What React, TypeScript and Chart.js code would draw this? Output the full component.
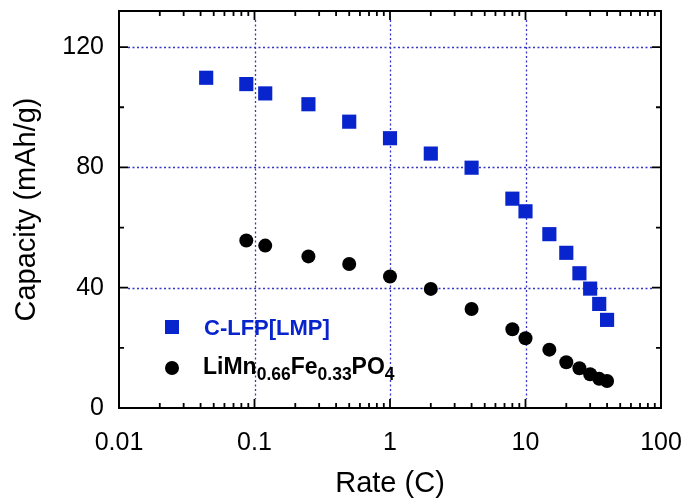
import React, { useEffect, useRef } from 'react';
import { Chart, registerables } from 'chart.js';

Chart.register(...registerables);

// ---- data ----
const lfpRates = [0.044, 0.087, 0.12, 0.25, 0.5, 1, 2, 4, 8, 10, 15, 20, 25, 30, 35, 40];
const lfpCapacity = [109.8, 107.7, 104.6, 101, 95.2, 89.7, 84.6, 79.9, 69.6, 65.4, 57.8, 51.6, 44.8, 39.7, 34.6, 29.3];
const lmfpRates = [0.087, 0.12, 0.25, 0.5, 1, 2, 4, 8, 10, 15, 20, 25, 30, 35, 40];
const lmfpCapacity = [55.7, 54, 50.4, 47.9, 43.7, 39.6, 32.9, 26.2, 23.2, 19.4, 15.2, 13.2, 11.2, 9.7, 9.0];

const xTickValues = [0.01, 0.1, 1, 10, 100];
const xTickLabels = ['0.01', '0.1', '1', '10', '100'];
const yTickValues = [0, 40, 80, 120];
const yMinorTicks = [20, 60, 100];
const xGridValues = [0.1, 1, 10];
const yGridValues = [40, 80, 120];

const BLUE = '#0824cc';
const GRID = '#3535c8';
const FONT = '"Liberation Sans", Arial, sans-serif';

const framePlugin = {
  id: 'frameAndTicks',
  beforeDatasetsDraw(chart: any) {
    const { ctx, chartArea: a, scales } = chart;
    const x = scales.x, y = scales.y;
    ctx.save();
    ctx.strokeStyle = GRID;
    ctx.lineWidth = 1.3;
    ctx.setLineDash([2, 2.5]);
    for (const v of xGridValues) {
      const px = Math.round(x.getPixelForValue(v)) + 0.5;
      ctx.beginPath();
      ctx.moveTo(px, a.top + 9);
      ctx.lineTo(px, a.bottom - 9);
      ctx.stroke();
    }
    for (const v of yGridValues) {
      const py = Math.round(y.getPixelForValue(v)) + 0.5;
      ctx.beginPath();
      ctx.moveTo(a.left + 9, py);
      ctx.lineTo(a.right - 9, py);
      ctx.stroke();
    }
    ctx.restore();
  },
  afterDatasetsDraw(chart: any) {
    const { ctx, chartArea: a, scales } = chart;
    const x = scales.x, y = scales.y;
    ctx.save();
    ctx.strokeStyle = '#000';
    ctx.setLineDash([]);
    ctx.lineWidth = 2;
    ctx.strokeRect(a.left, a.top, a.right - a.left, a.bottom - a.top);
    const major = 9, minor = 5;
    ctx.lineWidth = 1.8;
    for (let d = 0; d < xTickValues.length; d++) {
      const dec = xTickValues[d];
      const px = x.getPixelForValue(dec);
      ctx.beginPath();
      ctx.moveTo(px, a.bottom); ctx.lineTo(px, a.bottom - major);
      ctx.moveTo(px, a.top); ctx.lineTo(px, a.top + major);
      ctx.stroke();
      if (d < xTickValues.length - 1) {
        for (let k = 2; k <= 9; k++) {
          const mx = x.getPixelForValue(dec * k);
          ctx.beginPath();
          ctx.moveTo(mx, a.bottom); ctx.lineTo(mx, a.bottom - minor);
          ctx.moveTo(mx, a.top); ctx.lineTo(mx, a.top + minor);
          ctx.stroke();
        }
      }
    }
    for (const v of yTickValues) {
      const py = y.getPixelForValue(v);
      ctx.beginPath();
      ctx.moveTo(a.left, py); ctx.lineTo(a.left + major, py);
      ctx.moveTo(a.right, py); ctx.lineTo(a.right - major, py);
      ctx.stroke();
    }
    for (const v of yMinorTicks) {
      const py = y.getPixelForValue(v);
      ctx.beginPath();
      ctx.moveTo(a.left, py); ctx.lineTo(a.left + minor, py);
      ctx.moveTo(a.right, py); ctx.lineTo(a.right - minor, py);
      ctx.stroke();
    }
    ctx.restore();
  },
  afterDraw(chart: any) {
    const { ctx } = chart;
    ctx.save();
    ctx.fillStyle = BLUE;
    ctx.fillRect(165, 320, 14, 14);
    ctx.font = `bold 22px ${FONT}`;
    ctx.textBaseline = 'alphabetic';
    ctx.textAlign = 'left';
    ctx.fillText('C-LFP[LMP]', 204, 335);
    ctx.fillStyle = '#000';
    ctx.beginPath();
    ctx.arc(172, 368, 7, 0, Math.PI * 2);
    ctx.fill();
    const parts: [string, boolean][] = [
      ['LiMn', false], ['0.66', true], ['Fe', false], ['0.33', true], ['PO', false], ['4', true],
    ];
    let cx = 203;
    const base = 374;
    for (const [t, sub] of parts) {
      ctx.font = sub ? `bold 17.5px ${FONT}` : `bold 23px ${FONT}`;
      ctx.fillText(t, cx, sub ? base + 6 : base);
      cx += ctx.measureText(t).width;
    }
    ctx.restore();
  },
};

export default function App() {
  const ref = useRef<HTMLCanvasElement>(null);
  useEffect(() => {
    const chart = new Chart(ref.current!, {
      type: 'scatter',
      data: {
        datasets: [
          {
            label: 'C-LFP[LMP]',
            data: lfpRates.map((r, i) => ({ x: r, y: lfpCapacity[i] })),
            pointStyle: 'rect',
            pointRadius: 10,
            backgroundColor: BLUE,
            borderColor: BLUE,
            borderWidth: 0,
          },
          {
            label: 'LiMn0.66Fe0.33PO4',
            data: lmfpRates.map((r, i) => ({ x: r, y: lmfpCapacity[i] })),
            pointStyle: 'circle',
            pointRadius: 7,
            backgroundColor: '#000',
            borderColor: '#000',
            borderWidth: 0,
          },
        ],
      },
      options: {
        animation: false,
        responsive: false,
        layout: { padding: { top: 11, right: 30, left: 0, bottom: 0 } },
        plugins: { legend: { display: false }, tooltip: { enabled: false } },
        scales: {
          x: {
            type: 'logarithmic',
            min: 0.01,
            max: 100,
            grid: { display: false, drawTicks: false },
            border: { display: false },
            afterBuildTicks: (s: any) => { s.ticks = xTickValues.map((v) => ({ value: v })); },
            afterFit: (s: any) => { s.height = 94; s.paddingLeft = 0; s.paddingRight = 0; },
            ticks: {
              color: '#000',
              padding: 20,
              maxRotation: 0,
              autoSkip: false,
              font: { family: FONT, size: 25 },
              callback: (v: any) => {
                const i = xTickValues.indexOf(Number(v));
                return i >= 0 ? xTickLabels[i] : '';
              },
            },
            title: {
              display: true,
              text: 'Rate (C)',
              color: '#000',
              font: { family: FONT, size: 29 },
              padding: { top: 0, bottom: 1 },
            },
          },
          y: {
            min: 0,
            max: 132,
            grid: { display: false, drawTicks: false },
            border: { display: false },
            afterBuildTicks: (s: any) => { s.ticks = yTickValues.map((v) => ({ value: v })); },
            afterFit: (s: any) => { s.width = 119; s.paddingTop = 0; s.paddingBottom = 0; },
            ticks: {
              color: '#000',
              padding: 15,
              autoSkip: false,
              font: { family: FONT, size: 25 },
            },
            title: {
              display: true,
              text: 'Capacity (mAh/g)',
              color: '#000',
              font: { family: FONT, size: 29 },
              padding: { top: 10, bottom: 0 },
            },
          },
        },
      },
      plugins: [framePlugin],
    });
    return () => chart.destroy();
  }, []);
  return (
    <div style={{ position: 'fixed', left: 0, top: 0, width: 691, height: 502, background: '#fff' }}>
      <canvas ref={ref} width={691} height={502} />
    </div>
  );
}
